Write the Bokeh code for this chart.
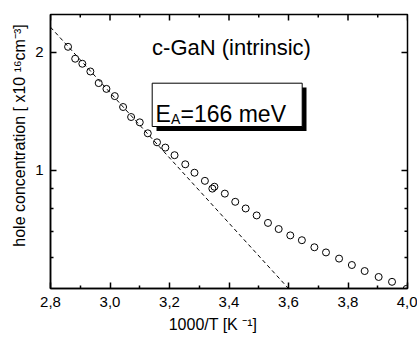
import math
from bokeh.plotting import figure
from bokeh.models import FixedTicker, Label, BoxAnnotation, Range1d
from bokeh.embed import file_html
from bokeh.resources import INLINE

# ---- data ----
inv_T = [2.859, 2.883, 2.907, 2.934, 2.962, 2.988, 3.016, 3.044, 3.071, 3.100,
         3.127, 3.158, 3.186, 3.217, 3.253, 3.284, 3.319, 3.351, 3.344, 3.386,
         3.421, 3.456, 3.493, 3.531, 3.567, 3.606, 3.645, 3.687, 3.726, 3.770,
         3.813, 3.856, 3.903, 3.948, 3.997]
hole_conc = [2.068, 1.928, 1.872, 1.789, 1.671, 1.615, 1.548, 1.452, 1.369, 1.327,
             1.244, 1.180, 1.144, 1.094, 1.037, 0.987, 0.941, 0.909, 0.899, 0.873,
             0.832, 0.800, 0.768, 0.735, 0.709, 0.683, 0.664, 0.637, 0.618, 0.596,
             0.574, 0.554, 0.535, 0.520, 0.499]
fit_inv_T = [2.8, 3.6]
fit_conc = [2.321, 0.5]

x_ticks = [2.8, 3.0, 3.2, 3.4, 3.6, 3.8, 4.0]
x_tick_labels = ["2,8", "3,0", "3,2", "3,4", "3,6", "3,8", "4,0"]
x_minor = [2.9, 3.1, 3.3, 3.5, 3.7, 3.9]
y_ticks = [1, 2]
y_tick_labels = ["1", "2"]
y_minor = [0.6, 0.7, 0.8, 0.9]

title_text = "c-GaN (intrinsic)"
x_title = "1000/T [K \u207b\u00b9]"
y_title = "hole concentration [ x10 \u00b9\u2076cm\u207b\u00b3]"
FONT = "Liberation Sans"

X0, X1, Y0, Y1 = 2.8, 4.0, 0.5, 2.5
FL, FR, FT, FB = 50.0, 407.0, 14.0, 288.0   # frame edges in pixels

def dx(px):
    return X0 + (px - FL) / (FR - FL) * (X1 - X0)

def dy(py):
    return 10 ** (math.log10(Y0) + (FB - py) / (FB - FT) * math.log10(Y1 / Y0))

p = figure(width=417, height=337, x_range=Range1d(X0, X1), y_range=Range1d(Y0, Y1),
           y_axis_type="log", output_backend="svg", toolbar_location=None,
           min_border_left=50, min_border_right=10, min_border_top=14, min_border_bottom=49)
p.grid.visible = False
p.outline_line_color = "black"
p.outline_line_width = 1.5
p.outline_line_alpha = 1.0
p.background_fill_color = "white"
p.border_fill_color = "white"

def style_axis(ax, standoff, label_standoff):
    ax.axis_line_color = "black"
    ax.axis_line_width = 1.5
    ax.major_tick_line_color = "black"
    ax.major_tick_line_width = 1.5
    ax.minor_tick_line_color = "black"
    ax.minor_tick_line_width = 1.5
    ax.major_tick_in = 6
    ax.major_tick_out = 0
    ax.minor_tick_in = 3
    ax.minor_tick_out = 0
    ax.major_label_text_font = FONT
    ax.major_label_text_color = "black"
    ax.major_label_text_font_size = "15px"
    ax.major_label_standoff = standoff
    ax.axis_label_text_font = FONT
    ax.axis_label_text_font_size = "16px"
    ax.axis_label_text_font_style = "normal"
    ax.axis_label_text_color = "black"
    ax.axis_label_standoff = label_standoff

xb = p.xaxis[0]
xb.ticker = FixedTicker(ticks=x_ticks, minor_ticks=x_minor)
xb.major_label_overrides = dict(zip(x_ticks, x_tick_labels))
xb.axis_label = x_title + "\u2003\u2003"
style_axis(xb, 8, 6)

yl = p.yaxis[0]
yl.ticker = FixedTicker(ticks=y_ticks, minor_ticks=y_minor)
yl.major_label_overrides = dict(zip(y_ticks, y_tick_labels))
yl.axis_label = "\u2003\u2003" + y_title
style_axis(yl, 7, 4)

# inward ticks on the top and right frame edges
top_major_x = x_ticks
top_minor_x = x_minor
p.segment(x0=top_major_x, x1=top_major_x, y0=[Y1] * len(top_major_x),
          y1=[dy(FT + 6)] * len(top_major_x), line_color="black", line_width=1.5)
p.segment(x0=top_minor_x, x1=top_minor_x, y0=[Y1] * len(top_minor_x),
          y1=[dy(FT + 3)] * len(top_minor_x), line_color="black", line_width=1.5)
p.segment(x0=[X1] * len(y_ticks), x1=[dx(FR - 6)] * len(y_ticks), y0=y_ticks, y1=y_ticks,
          line_color="black", line_width=1.5)
p.segment(x0=[X1] * len(y_minor), x1=[dx(FR - 3)] * len(y_minor), y0=y_minor, y1=y_minor,
          line_color="black", line_width=1.5)

# fit line and data
p.line(fit_inv_T, fit_conc, line_color="black", line_width=1, line_dash="4 3")
p.scatter(inv_T, hole_conc, marker="circle", size=7, fill_color=None,
          line_color="black", line_width=1)

# title
p.add_layout(Label(x=dx(231), y=dy(46.5), text=title_text, text_align="center",
                   text_baseline="alphabetic", text_font=FONT, text_font_size="22px",
                   text_color="black"))

# E_A box with shadow
p.add_layout(BoxAnnotation(left=dx(156), right=dx(306), top=dy(87), bottom=dy(130.5),
                           fill_color="black", fill_alpha=1.0, line_color=None))
p.add_layout(BoxAnnotation(left=dx(151.7), right=dx(301.7), top=dy(82.7), bottom=dy(126),
                           fill_color="white", fill_alpha=1.0, line_color="black",
                           line_alpha=1.0, line_width=1))
p.add_layout(Label(x=dx(155), y=dy(113.5), text="E", text_align="left",
                   text_baseline="alphabetic", text_font=FONT, text_font_size="23px",
                   text_color="black"))
p.add_layout(Label(x=dx(170.5), y=dy(118.5), text="A", text_align="left",
                   text_baseline="alphabetic", text_font=FONT, text_font_size="14px",
                   text_color="black"))
p.add_layout(Label(x=dx(180), y=dy(113.5), text="=166 meV", text_align="left",
                   text_baseline="alphabetic", text_font=FONT, text_font_size="23px",
                   text_color="black"))

open("out.html", "w").write(file_html(p, INLINE))
